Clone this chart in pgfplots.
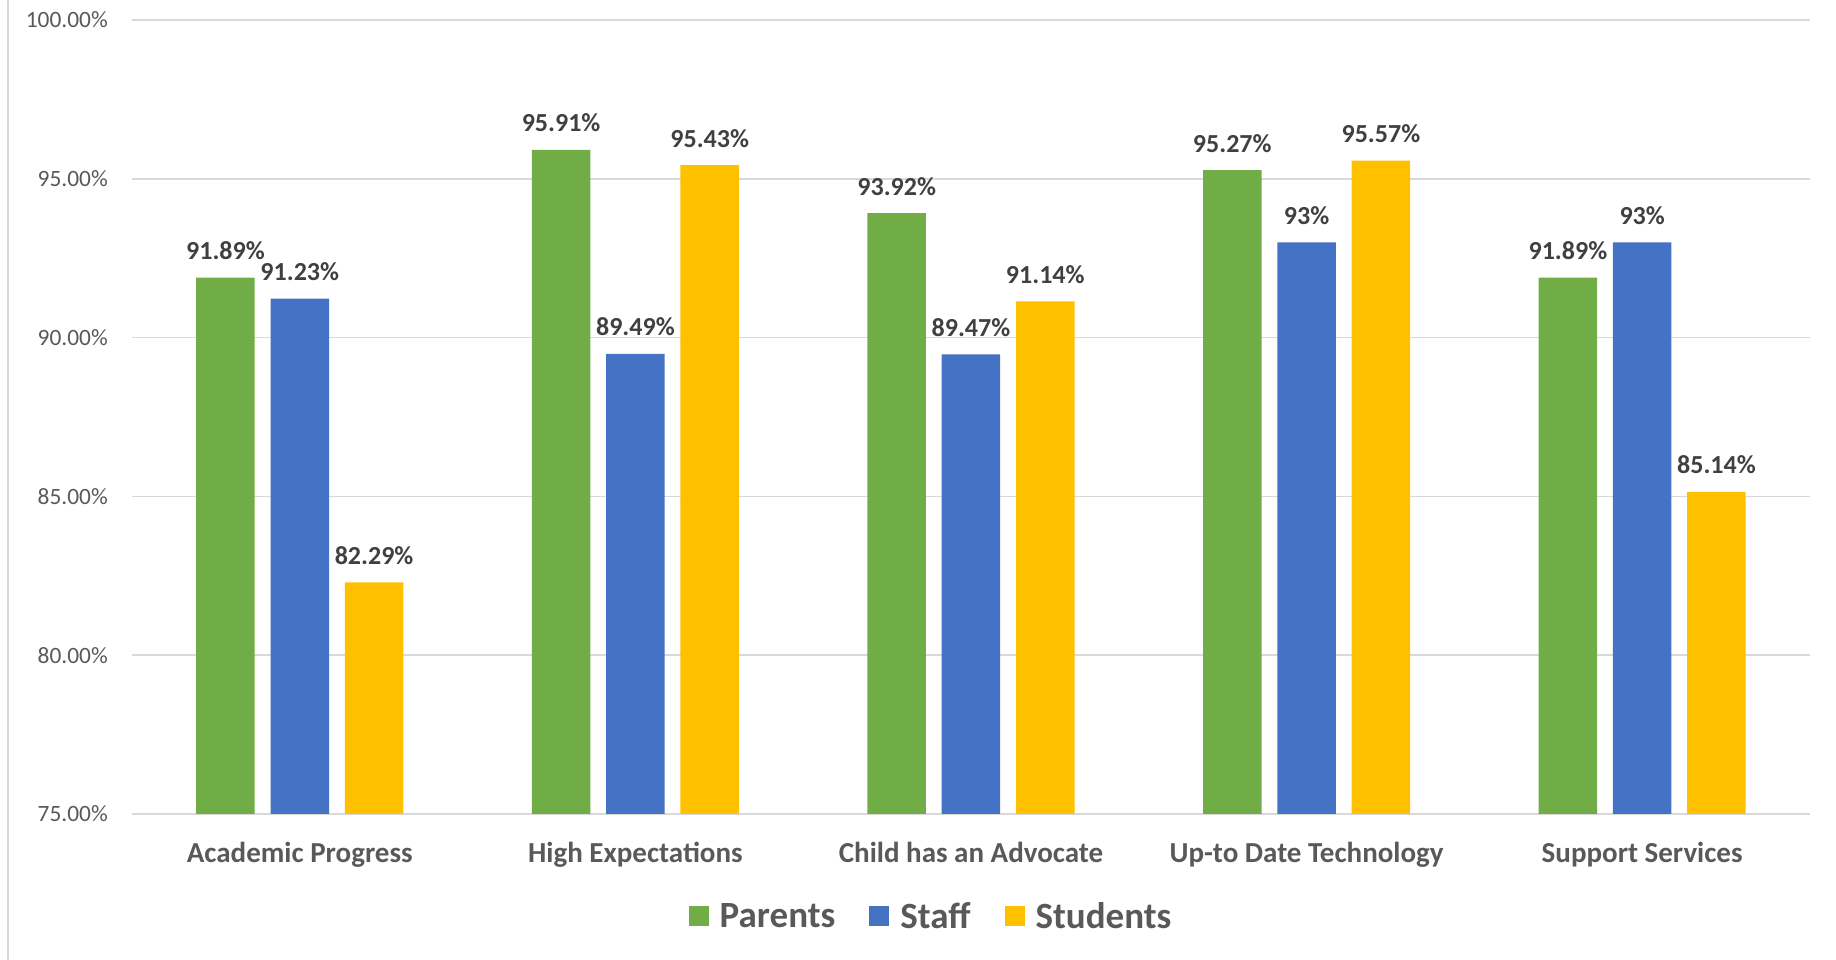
\documentclass[border=0pt]{standalone}
\usepackage{pgfplots}
\pgfplotsset{compat=1.18}
\usepackage{fontspec}
\setmainfont{Carlito}
\definecolor{cgreen}{HTML}{70AD47}
\definecolor{cblue}{HTML}{4472C4}
\definecolor{cyellow}{HTML}{FFC000}
\definecolor{cgrid}{HTML}{D9D9D9}
\definecolor{ctick}{HTML}{595959}
\definecolor{clabel}{HTML}{404040}
\begin{document}
\begin{tikzpicture}
\useasboundingbox (0,0) rectangle (1836bp,960bp);
\draw[cgrid, line width=2bp] (8bp,0) -- (8bp,960bp);
\begin{axis}[
  at={(132bp,146bp)}, anchor=south west,
  scale only axis, width=1678bp, height=794bp,
  xmin=-0.5, xmax=4.5, ymin=75, ymax=100,
  ybar=15.8bp, bar width=58.5bp,
  axis line style={draw=none},
  major tick length=0pt,
  ymajorgrids, grid style={cgrid, line width=1.6bp},
  ytick={75,80,85,90,95,100},
  yticklabels={75.00\%,80.00\%,85.00\%,90.00\%,95.00\%,100.00\%},
  yticklabel style={font=\fontsize{23.4bp}{28bp}\selectfont, text=ctick, anchor=east, inner sep=0pt, xshift=-24bp},
  xtick={0,1,2,3,4},
  xticklabels={Academic Progress,High Expectations,Child has an Advocate,Up-to Date Technology,Support Services},
  xticklabel style={font=\fontsize{29bp}{34bp}\selectfont\bfseries, text=ctick, anchor=base, inner sep=0pt, yshift=-48bp},
  /pgf/number format/assume math mode=true,
  point meta=explicit symbolic,
  nodes near coords,
  every node near coord/.append style={anchor=base, yshift=18bp, inner sep=0pt, font=\fontsize{26bp}{31bp}\selectfont\bfseries, text=clabel},
  legend columns=3,
  legend image code/.code={\fill[#1] (0bp,-10bp) rectangle (20bp,10bp);},
  legend style={at={(0.4756,-0.1284)}, anchor=center, draw=none, fill=none, inner sep=0pt,
    nodes={inner sep=0pt, text=ctick, font=\fontsize{37bp}{42bp}\selectfont\bfseries},
    /tikz/every odd column/.append style={column sep=11bp},
    /tikz/every even column/.append style={column sep=34bp}},
]
\addplot[fill=cgreen, draw=none] coordinates {
  (0,91.89) [91.89\%] (1,95.91) [95.91\%] (2,93.92) [93.92\%] (3,95.27) [95.27\%] (4,91.89) [91.89\%]};
\addplot[fill=cblue, draw=none] coordinates {
  (0,91.23) [91.23\%] (1,89.49) [89.49\%] (2,89.47) [89.47\%] (3,93) [93\%] (4,93) [93\%]};
\addplot[fill=cyellow, draw=none] coordinates {
  (0,82.29) [82.29\%] (1,95.43) [95.43\%] (2,91.14) [91.14\%] (3,95.57) [95.57\%] (4,85.14) [85.14\%]};
\legend{Parents,Staff,Students}
\end{axis}
\end{tikzpicture}
\end{document}
